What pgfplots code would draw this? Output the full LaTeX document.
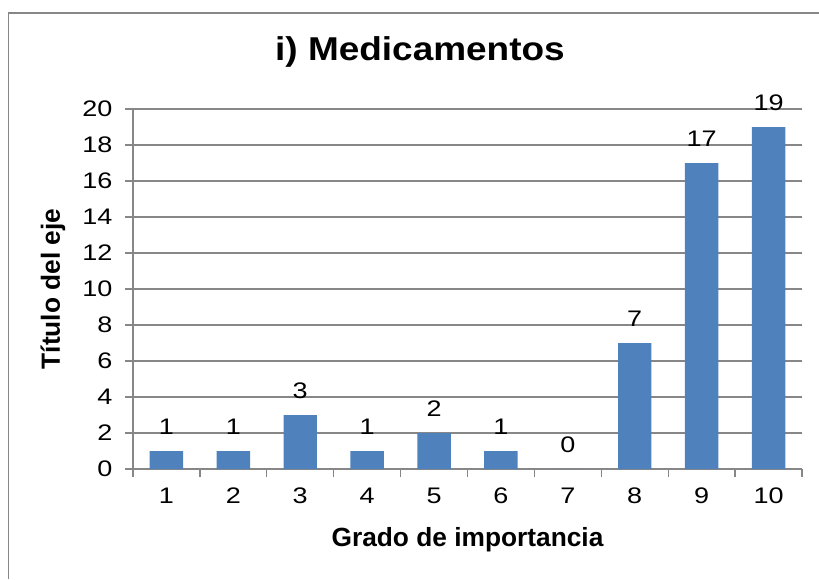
\documentclass[border=0pt]{standalone}
\usepackage{pgfplots}
\pgfplotsset{compat=1.18}
\usepackage{fontspec}
\setmainfont{Liberation Sans}
\newfontfamily\tickfont{Liberation Sans}[FakeStretch=1.2]
\newfontfamily\titlefont{Liberation Sans Bold}[FakeStretch=1.12]
\definecolor{barblue}{HTML}{4F81BD}
\definecolor{linegray}{HTML}{878787}

\begin{document}
\begin{tikzpicture}[x=1pt,y=1pt]
\path[use as bounding box] (0,0) rectangle (819,579);
% chart area frame
\draw[linegray, line width=1.1pt] (8.5,0) -- (8.5,566) -- (819,566);
\begin{axis}[
  at={(133pt,110pt)}, anchor=south west,
  scale only axis, width=669pt, height=360pt,
  xmin=0.5, xmax=10.5, ymin=0, ymax=20,
  /pgf/number format/assume math mode=true,
  axis x line*=bottom, axis y line*=left,
  axis line style={linegray, line width=1.3pt},
  xtick={1,...,10},
  minor xtick={0.5,1.5,...,10.5},
  ytick={0,2,...,20},
  ymajorgrids,
  grid style={linegray, line width=1.3pt},
  tick align=outside,
  major tick length=8pt, minor tick length=8pt,
  tick style={linegray, line width=1.3pt},
  major x tick style={draw=none},
  tick label style={font=\fontsize{22.5}{27}\selectfont\tickfont},
  yticklabel style={xshift=-9pt},
  xticklabel style={yshift=-7pt},
  ybar, bar width=0.5,
  nodes near coords,
  nodes near coords style={font=\fontsize{22.5}{27}\selectfont\tickfont, anchor=base, yshift=17pt, inner sep=0pt},
  title={i) Medicamentos},
  title style={font=\fontsize{33}{40}\selectfont\titlefont, at={(axis description cs:0.429,1.119)}, anchor=base},
  xlabel={Grado de importancia},
  every axis x label/.style={at={(axis description cs:0.5,-0.197)}, anchor=center, font=\fontsize{26.3}{30}\selectfont\bfseries},
  ylabel={Título del eje},
  every axis y label/.style={at={(axis description cs:-0.1196,0.5)}, rotate=90, anchor=center, font=\fontsize{26.3}{30}\selectfont\bfseries},
]
\addplot[fill=barblue, draw=none] coordinates {
  (1,1) (2,1) (3,3) (4,1) (5,2) (6,1) (7,0) (8,7) (9,17) (10,19)
};
\end{axis}
\end{tikzpicture}
\end{document}
